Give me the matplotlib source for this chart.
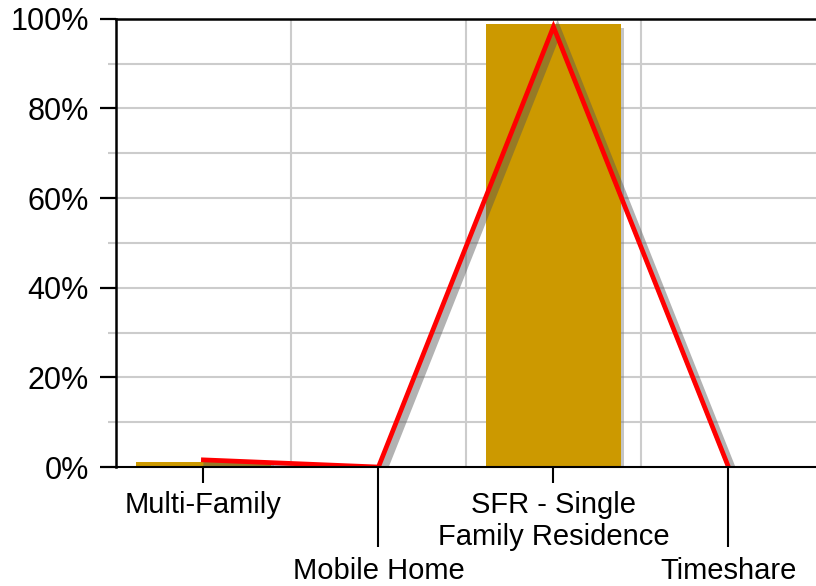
import numpy as np
import matplotlib
matplotlib.use("Agg")
import matplotlib.pyplot as plt
import matplotlib.patheffects as pe
from matplotlib.ticker import FixedLocator, FuncFormatter

plt.rcParams['font.family'] = ['Liberation Sans', 'DejaVu Sans']

categories = ["Multi-Family", "Mobile Home", "SFR - Single\nFamily Residence", "Timeshare"]
bar_values = [1.2, 0.0, 98.8, 0.0]
line_values = [1.6, 0.0, 98.2, 0.0]

fig = plt.figure(figsize=(8.16, 5.86), dpi=100)
ax = fig.add_axes([0.142, 0.203, 0.858, 0.765])

x = np.arange(len(categories))

bars = ax.bar(x, bar_values, width=0.77, color="#CC9900", zorder=3)
for b in bars:
    b.set_path_effects([pe.SimplePatchShadow(offset=(2.5, -2.5), shadow_rgbFace="gray", alpha=0.45), pe.Normal()])

ax.plot(x, line_values, color="#FF0000", lw=3.4, zorder=4, solid_joinstyle="miter",
        path_effects=[pe.SimpleLineShadow(offset=(3, -3), shadow_color="#555555", alpha=0.45, linewidth=6),
                      pe.Normal()])

ax.set_xlim(-0.5, 3.5)
ax.set_ylim(0, 100)

# y axis
ax.yaxis.set_major_locator(FixedLocator([0, 20, 40, 60, 80, 100]))
ax.yaxis.set_minor_locator(FixedLocator([10, 30, 50, 70, 90]))
ax.yaxis.set_major_formatter(FuncFormatter(lambda v, p: f"{int(v)}%"))
ax.tick_params(axis="y", which="major", length=11.5, width=1.6, color="black", labelsize=22, pad=8)
ax.tick_params(axis="y", which="minor", length=6, width=1.5, color="#cccccc")

# x axis: staggered labels
ax.xaxis.set_major_locator(FixedLocator([0, 2]))
ax.xaxis.set_minor_locator(FixedLocator([1, 3]))
ax.set_xticklabels([categories[0], categories[2]])
ax.set_xticklabels([categories[1], categories[3]], minor=True)
ax.tick_params(axis="x", which="major", length=11.5, width=1.5, labelsize=21, pad=6)
ax.tick_params(axis="x", which="minor", length=57.5, width=1.5, labelsize=21, pad=7)
for lab in ax.get_xticklabels():
    lab.set_linespacing(1.15)

# grid
for v in [10, 20, 30, 40, 50, 60, 70, 80, 90]:
    ax.axhline(v, color="#cccccc", lw=1.5, zorder=1)
for v in [0.5, 1.5, 2.5]:
    ax.axvline(v, color="#cccccc", lw=1.5, zorder=1)

for s in ["left", "top"]:
    ax.spines[s].set_linewidth(1.8)
ax.spines["bottom"].set_linewidth(1.5)
ax.spines["right"].set_visible(False)
for s in ax.spines.values():
    s.set_zorder(5)

fig.savefig("out.png", dpi=100)
